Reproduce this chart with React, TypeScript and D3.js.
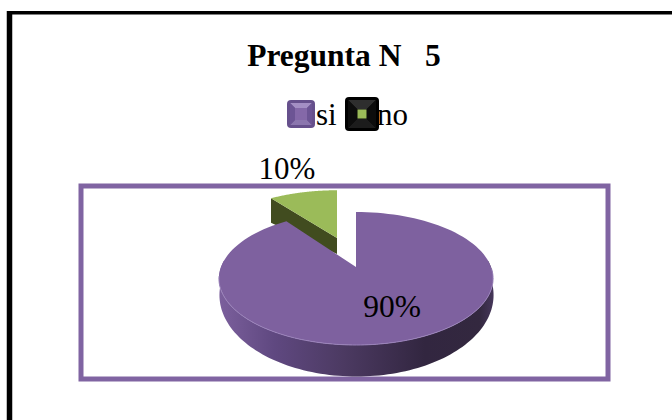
import React from "react";
import * as d3 from "d3";

const title = "Pregunta N   5";
const categories = ["si", "no"];
const shares = [90, 10];
const sliceColors = ["#7e619f", "#9bbb59"];
const legendBoxes = ["#66508c", "#000000"];
const legendCentres = ["#8468a8", "#9bbb59"];
const legendBevelLight = ["#a48fc4", "#2e2e2e"];
const legendBevelDark = ["#6c5494", "#0c0c0c"];

const W = 672;
const H = 420;
const DEG = Math.PI / 180;

// Perspective view of a disc: the far half is foreshortened against the near half.
const TILT = 0.173;
type Disc = { cx: number; cy: number; rx: number; ry: number };
const project = (d: Disc, theta: number): [number, number] => {
  const u = Math.sin(theta);
  const v = -Math.cos(theta);
  const w = 1 - TILT * v;
  return [d.cx + (d.rx * u) / w, d.cy + (d.ry * v) / w];
};

const line = d3.line<[number, number]>();
const rim = (d: Disc, a0: number, a1: number) =>
  d3.range(0, 121).map((i) => project(d, a0 + ((a1 - a0) * i) / 120));

const wedge = (d: Disc, a0: number, a1: number) =>
  line([[d.cx, d.cy], ...rim(d, a0, a1)]) + "Z";
const band = (top: Disc, bottom: Disc, a0: number, a1: number) =>
  line([...rim(top, a0, a1), ...rim(bottom, a1, a0)]) + "Z";

type Swatch = { x: number; y: number; s: number; inner: number; textX: number };
const swatches: Swatch[] = [
  { x: 287, y: 100, s: 28, inner: 12, textX: 316 },
  { x: 345, y: 97, s: 34, inner: 9, textX: 377 },
];

export default function App() {
  const rows = categories.map((name, i) => ({ name, value: shares[i] }));
  const arcs = d3
    .pie<{ name: string; value: number }>()
    .sort(null)
    .value((d) => d.value)(rows);
  const major = arcs[0];
  const minor = arcs[1];

  const mainTop: Disc = { cx: 356, cy: 267, rx: 135, ry: 64.5 };
  const mainBottom: Disc = { cx: 356.5, cy: 281, rx: 135, ry: 79 };
  const minorTop: Disc = { cx: 337, cy: 238, rx: 128, ry: 56 };
  const minorBottom: Disc = { cx: 337, cy: 254, rx: 128, ry: 44 };
  const minorEdge = minor.startAngle;
  const pieX = d3.scaleLinear().domain([0, 1]).range([220, 493]);

  return (
    <svg
      width={W}
      height={H}
      viewBox={`0 0 ${W} ${H}`}
      style={{ position: "absolute", left: 0, top: 0, background: "#fff" }}
      fontFamily="'Liberation Serif', serif"
    >
      <defs>
        <linearGradient id="mainSide" gradientUnits="userSpaceOnUse" x1={pieX(0)} x2={pieX(1)} y1={0} y2={0}>
          <stop offset="0" stopColor="#7b5f9c" />
          <stop offset="0.2" stopColor="#5f4880" />
          <stop offset="0.45" stopColor="#4c3a62" />
          <stop offset="0.75" stopColor="#322640" />
          <stop offset="0.95" stopColor="#33283f" />
          <stop offset="1" stopColor="#453659" />
        </linearGradient>
      </defs>

      {/* Outer frame: only the top and left edges fall inside the page */}
      <line x1={9.5} x2={9.5} y1={11} y2={420} stroke="#000" strokeWidth={5.5} />
      <line x1={7} x2={672} y1={12.7} y2={12.7} stroke="#000" strokeWidth={3.5} />

      <rect x={81} y={186} width={527} height={193} fill="none" stroke="#8064a2" strokeWidth={5} />

      <text x={344} y={66} fontSize={31.5} fontWeight={700} textAnchor="middle" style={{ whiteSpace: "pre" }}>
        {title}
      </text>

      {/* Legend */}
      {categories.map((name, i) => {
        const { x, y, s, inner, textX } = swatches[i];
        const a = x + 3;
        const b = x + s - 3;
        const c = y + 3;
        const d = y + s - 3;
        const m = (s - inner) / 2;
        const l = x + m;
        const r = x + s - m;
        const t = y + m;
        const u = y + s - m;
        return (
          <g key={name}>
            <rect x={x} y={y} width={s} height={s} rx={4} fill={legendBoxes[i]} />
            <path d={`M${a} ${c}H${b}L${r} ${t}H${l}Z`} fill={legendBevelLight[i]} />
            <path d={`M${a} ${d}H${b}L${r} ${u}H${l}Z`} fill={legendBevelLight[i]} opacity={0.6} />
            <path d={`M${a} ${c}V${d}L${l} ${u}V${t}Z`} fill={legendBevelDark[i]} />
            <path d={`M${b} ${c}V${d}L${r} ${u}V${t}Z`} fill={legendBevelDark[i]} />
            <rect x={l} y={t} width={inner} height={inner} fill={legendCentres[i]} />
            <text x={textX} y={125} fontSize={31}>
              {name}
            </text>
          </g>
        );
      })}

      {/* Pulled-out slice */}
      <path
        d={
          line([
            project(minorTop, minorEdge),
            [minorTop.cx, minorTop.cy],
            [minorBottom.cx, minorBottom.cy],
            project(minorBottom, minorEdge),
          ]) + "Z"
        }
        fill="#414c1f"
      />
      <path d={wedge(minorTop, minorEdge, minor.endAngle)} fill={sliceColors[1]} />

      {/* Main slice: near wall, then top face */}
      <path d={band(mainTop, mainBottom, 84 * DEG, 276 * DEG)} fill="url(#mainSide)" />
      <path d={wedge(mainTop, major.startAngle, major.endAngle)} fill={sliceColors[0]} />
      <path d={line(rim(mainTop, 92 * DEG, 262 * DEG)) ?? ""} fill="none" stroke="#9a82ba" strokeWidth={1} />

      <text x={392} y={317} fontSize={31.5} textAnchor="middle">
        {shares[0]}%
      </text>
      <text x={287} y={179} fontSize={31} textAnchor="middle">
        {shares[1]}%
      </text>
    </svg>
  );
}
